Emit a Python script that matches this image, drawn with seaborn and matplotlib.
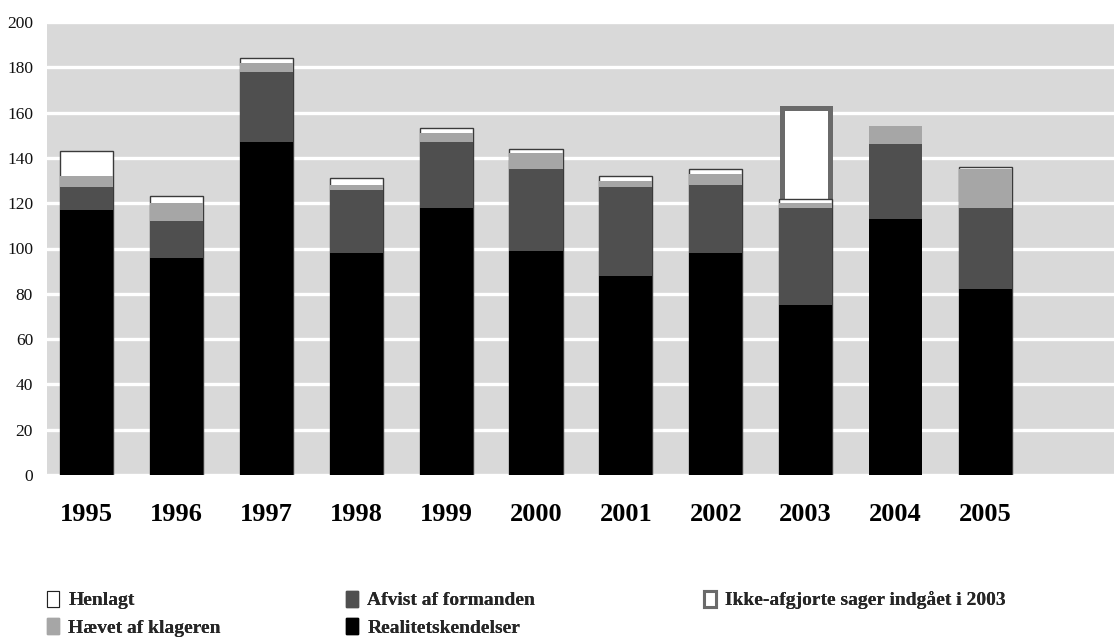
import matplotlib
matplotlib.use("Agg")
import matplotlib.pyplot as plt
from matplotlib.patches import Patch
import seaborn as sns
import numpy as np
import pandas as pd

years = ["1995", "1996", "1997", "1998", "1999", "2000", "2001", "2002", "2003", "2004", "2005"]
realitet = [117, 96, 147, 98, 118, 99, 88, 98, 75, 113, 82]
afvist = [10, 16, 31, 28, 29, 36, 39, 30, 43, 33, 36]
haevet = [5, 8, 4, 2, 4, 7, 3, 5, 2, 8, 17]
henlagt = [11, 3, 2, 3, 2, 2, 2, 2, 2, 0, 1]
ikke_afgjorte = [0, 0, 0, 0, 0, 0, 0, 0, 40, 0, 0]

labels = ["Henlagt", "Hævet af klageren", "Afvist af formanden", "Realitetskendelser",
          "Ikke-afgjorte sager indgået i 2003"]

C_BLACK = "#000000"
C_DARK = "#4f4f4f"
C_LIGHT = "#a6a6a6"
C_WHITE = "#ffffff"
C_IKKE_EDGE = "#6a6a6a"
BG = "#d9d9d9"

sns.set_theme(style="white")
plt.rcParams["font.family"] = ["Liberation Serif", "DejaVu Serif"]

df = pd.DataFrame({"year": years, "realitet": realitet, "afvist": afvist,
                   "haevet": haevet, "henlagt": henlagt, "ikke": ikke_afgjorte})
df["c1"] = df["realitet"]
df["c2"] = df["c1"] + df["afvist"]
df["c3"] = df["c2"] + df["haevet"]
df["c4"] = df["c3"] + df["henlagt"]
df["c5"] = df["c4"] + df["ikke"]

fig = plt.figure(figsize=(11.14, 6.40), dpi=100)
ax = fig.add_axes([47 / 1114, 165 / 640, 1 - 47 / 1114, 453 / 640])
ax.set_facecolor(BG)

W = 0.59
# Ikke-afgjorte (only where > 0)
d = df[df["ikke"] > 0]
sns.barplot(data=d, x="year", y="c5", order=years, color=C_WHITE, width=W * 0.91,
            edgecolor=C_IKKE_EDGE, linewidth=3.6, saturation=1, ax=ax, zorder=3)
# Henlagt
d = df[df["henlagt"] > 0]
sns.barplot(data=d, x="year", y="c4", order=years, color=C_WHITE, width=W,
            edgecolor="#3a3a3a", linewidth=1.0, saturation=1, ax=ax, zorder=3)
sns.barplot(data=df, x="year", y="c3", order=years, color=C_LIGHT, width=W,
            linewidth=0, saturation=1, ax=ax, zorder=3)
sns.barplot(data=df, x="year", y="c2", order=years, color=C_DARK, width=W,
            linewidth=0, saturation=1, ax=ax, zorder=3)
sns.barplot(data=df, x="year", y="c1", order=years, color=C_BLACK, width=W,
            linewidth=0, saturation=1, ax=ax, zorder=3)

ax.set_xlim(-0.44, 11.43)
ax.set_ylim(0, 200)
ax.set_yticks(np.arange(0, 201, 20))
ax.yaxis.grid(True, color="white", linewidth=2.4)
ax.xaxis.grid(False)
ax.set_axisbelow(True)
for s in ax.spines.values():
    s.set_visible(False)
ax.set_xlabel("")
ax.set_ylabel("")
ax.tick_params(axis="y", length=0, pad=10, labelsize=12.5, labelcolor="#111111")
ax.tick_params(axis="x", length=0, pad=20, labelsize=19, labelcolor="#000000")
for t in ax.get_xticklabels():
    t.set_fontweight("bold")

h_henlagt = Patch(facecolor="white", edgecolor="#222222", linewidth=0.8)
h_haevet = Patch(facecolor=C_LIGHT, edgecolor=C_LIGHT)
h_afvist = Patch(facecolor=C_DARK, edgecolor=C_DARK)
h_real = Patch(facecolor=C_BLACK, edgecolor=C_BLACK)
h_ikke = Patch(facecolor="white", edgecolor=C_IKKE_EDGE, linewidth=2.2)

legkw = dict(frameon=False, loc="upper left", borderpad=0, borderaxespad=0,
             handlelength=0.6, handleheight=0.85, handletextpad=0.5,
             labelspacing=0.45, prop={"weight": "bold", "size": 14})
cols = [([h_henlagt, h_haevet], labels[0:2], 47),
        ([h_afvist, h_real], labels[2:4], 346),
        ([h_ikke], labels[4:5], 704)]
for hs, ls, xpx in cols:
    leg = fig.legend(hs, ls, bbox_to_anchor=(xpx / 1114, 1 - 591 / 640),
                     bbox_transform=fig.transFigure, **legkw)
    fig.add_artist(leg)

fig.savefig("out.png", dpi=100, facecolor="white")
